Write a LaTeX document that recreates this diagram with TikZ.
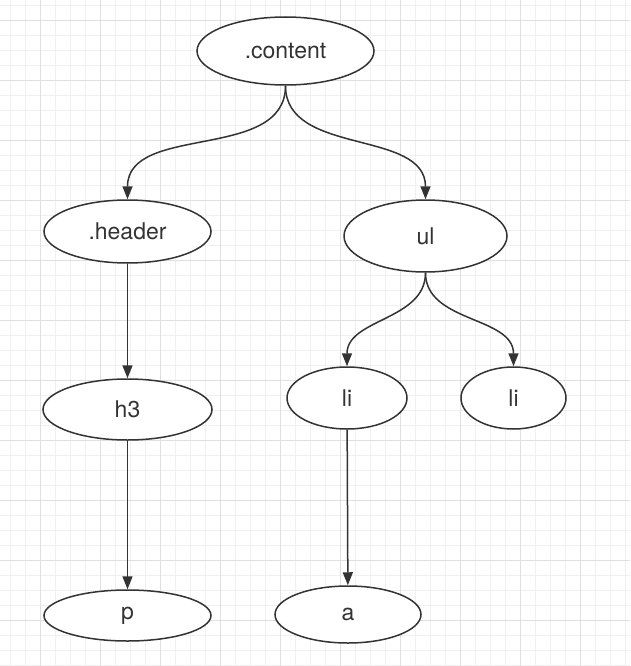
\documentclass[tikz,border=0pt]{standalone}
\usepackage{fontspec}
\setmainfont{TeX Gyre Heros}
\usetikzlibrary{arrows.meta, shapes.geometric}

\definecolor{gridminor}{HTML}{F0F0F0}
\definecolor{gridmajor}{HTML}{E0E0E0}
\definecolor{ink}{HTML}{333333}

\tikzset{
  tag/.style={ellipse, draw=ink, line width=1.5pt, fill=white, inner sep=0pt,
    text=ink, font=\fontsize{23}{27}\selectfont},
  edge/.style={draw=ink, line width=1.5pt, -{Triangle[length=13pt, width=10pt]}}
}

\begin{document}
\begin{tikzpicture}[x=1pt, y=1pt]
  \useasboundingbox (0,0) rectangle (630,-666);
  % --- background grid ---
  \begin{scope}[shift={(10,-5)}]
    \draw[gridminor, line width=0.8pt, step=15] (-10,-661) grid (620,5);
  \end{scope}
  \begin{scope}[shift={(40,-20)}]
    \draw[gridmajor, line width=0.8pt, step=60] (-40,-646) grid (590,20);
  \end{scope}
  % --- tree nodes ---
  \node[tag, minimum width=177pt, minimum height=68pt] (content) at (285.5,-51) {.content};
  \node[tag, minimum width=167pt, minimum height=63pt] (header) at (127.5,-231.5) {.header};
  \node[tag, minimum width=163pt, minimum height=72pt] (ul) at (425.5,-236) {ul};
  \node[tag, minimum width=169pt, minimum height=61pt] (h3) at (127.5,-409.5) {h3};
  \node[tag, minimum width=120pt, minimum height=62pt] (li1) at (347,-398) {li};
  \node[tag, minimum width=105pt, minimum height=62pt] (li2) at (513.5,-398) {li};
  \node[tag, minimum width=167pt, minimum height=51pt] (p) at (127.5,-615.5) {p};
  \node[tag, minimum width=146pt, minimum height=57pt] (a) at (348,-614.5) {a};
  % --- connectors ---
  \draw[edge] (content.south) to[out=-90, in=90] (header.north);
  \draw[edge] (content.south) to[out=-90, in=90] (ul.north);
  \draw[edge] (ul.south) to[out=-90, in=90] (li1.north);
  \draw[edge] (ul.south) to[out=-90, in=90] (li2.north);
  \draw[edge] (header) -- (h3);
  \draw[edge] (h3) -- (p);
  \draw[edge] (li1) -- (a);
\end{tikzpicture}
\end{document}
